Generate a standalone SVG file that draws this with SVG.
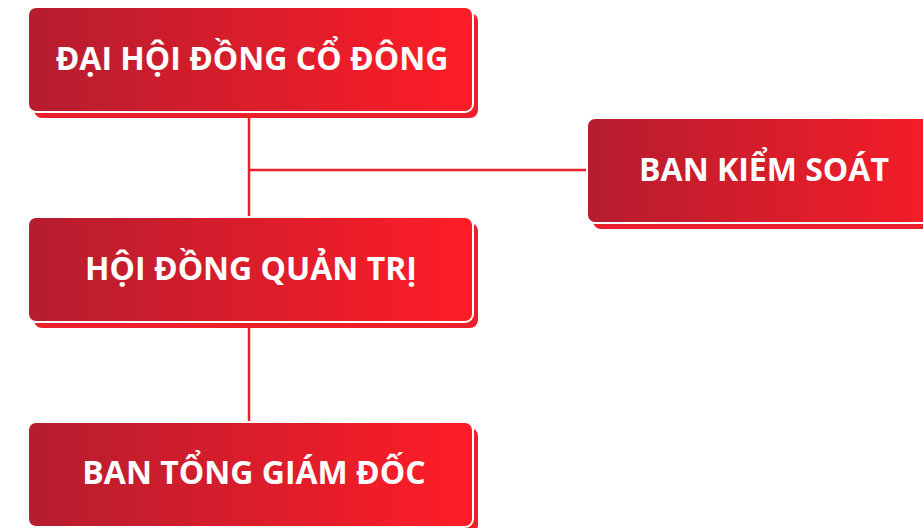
<svg xmlns="http://www.w3.org/2000/svg" width="923" height="528" viewBox="0 0 923 528">
<defs>
<linearGradient id="g" x1="0" y1="0" x2="1" y2="0">
<stop offset="0" stop-color="#b51d2f"/>
<stop offset="1" stop-color="#ff1d27"/>
</linearGradient>
<style>
.sh{fill:#ec1f2b;}
.bx{fill:url(#g);stroke:#ffffff;stroke-width:2;}
.t{fill:#ffffff;font-family:"Open Sans","DejaVu Sans",sans-serif;font-weight:700;font-size:32px;text-anchor:middle;}
.ln{stroke:#e8202c;stroke-width:2.5;fill:none;}
</style>
</defs>
<g id="connectors">
<line class="ln" x1="249" y1="111" x2="249" y2="218"/>
<line class="ln" x1="249" y1="170" x2="588" y2="170"/>
<line class="ln" x1="249" y1="322" x2="249" y2="423"/>
</g>
<g id="n1">
<rect class="sh" x="34" y="13" width="444" height="105" rx="8"/>
<rect class="bx" x="28" y="7" width="445" height="105" rx="8"/>
<text class="t" x="252" y="70">ĐẠI HỘI ĐỒNG CỔ ĐÔNG</text>
</g>
<g id="n2">
<rect class="sh" x="593" y="124" width="400" height="105" rx="8"/>
<rect class="bx" x="587" y="118" width="400" height="105" rx="8"/>
<text class="t" x="764" y="181">BAN KIỂM SOÁT</text>
</g>
<g id="n3">
<rect class="sh" x="34" y="223" width="444" height="105" rx="8"/>
<rect class="bx" x="28" y="217" width="445" height="105" rx="8"/>
<text class="t" x="251" y="280">HỘI ĐỒNG QUẢN TRỊ</text>
</g>
<g id="n4">
<rect class="sh" x="34" y="428" width="444" height="105" rx="8"/>
<rect class="bx" x="28" y="422" width="445" height="105" rx="8"/>
<text class="t" x="254" y="484">BAN TỔNG GIÁM ĐỐC</text>
</g>
</svg>
